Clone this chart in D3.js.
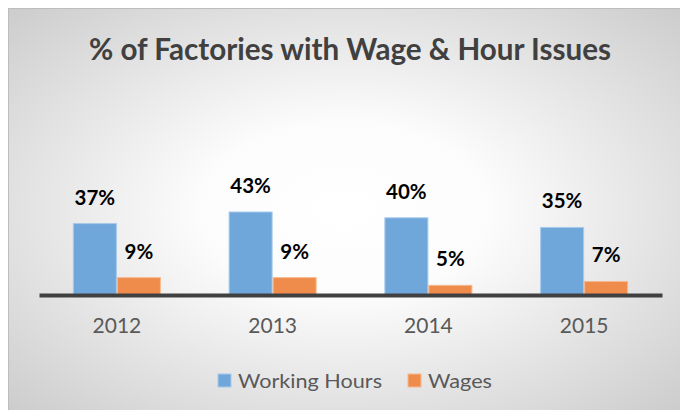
<!DOCTYPE html>
<html>
<head>
<meta charset="utf-8">
<script src="https://cdn.jsdelivr.net/npm/d3@7"></script>
<style>
  body { margin: 0; background: #ffffff; }
  text { font-family: Lato, "Open Sans", sans-serif; }
</style>
</head>
<body>
<div id="chart"></div>
<script>
// chart data
var years = ["2012", "2013", "2014", "2015"];
var seriesNames = ["Working Hours", "Wages"];
var workingHours = [37, 43, 40, 35];
var wages = [9, 9, 5, 7];
var seriesColors = ["#70a7db", "#ef8c4c"];
var seriesEdges = ["#a6c9ea", "#f6b88f"];

var svgWidth = 680;
var svgHeight = 410;

var svg = d3.select("#chart")
    .append("svg")
    .attr("width", svgWidth)
    .attr("height", svgHeight);

// background panel with a radial grey gradient
var defs = svg.append("defs");
var grad = defs.append("radialGradient")
    .attr("id", "bg")
    .attr("cx", "0.5").attr("cy", "0.5").attr("r", "0.72");
grad.append("stop").attr("offset", "0").attr("stop-color", "#ffffff");
grad.append("stop").attr("offset", "0.3").attr("stop-color", "#fcfcfc");
grad.append("stop").attr("offset", "1").attr("stop-color", "#cbcbcb");

svg.append("rect")
    .attr("x", 8.5).attr("y", 8.5)
    .attr("width", svgWidth - 8).attr("height", svgHeight - 8)
    .attr("fill", "url(#bg)")
    .attr("stroke", "#bdbdbd")
    .attr("stroke-width", 1);

// title
svg.append("text")
    .attr("x", 350)
    .attr("y", 60)
    .attr("text-anchor", "middle")
    .attr("font-size", 31)
    .attr("font-weight", "bold")
    .attr("fill", "#404040")
    .attr("textLength", 522)
    .attr("lengthAdjust", "spacingAndGlyphs")
    .text("% of Factories with Wage & Hour Issues");

// scales
var plot = { left: 39, right: 662, base: 295 };

var x0 = d3.scaleBand()
    .domain(years)
    .range([plot.left, plot.right]);

var gapWidth = 1.54; // gap between groups relative to one bar
var barW = x0.bandwidth() / (seriesNames.length + gapWidth);
var x1 = d3.scaleBand()
    .domain(seriesNames)
    .range([barW * gapWidth / 2, x0.bandwidth() - barW * gapWidth / 2]);

var y = d3.scaleLinear()
    .domain([0, 50])
    .range([plot.base, plot.base - 96.5]);

var rows = years.map(function(yr, i) {
    return { year: yr, values: [workingHours[i], wages[i]] };
});

var groups = svg.selectAll(".grp")
    .data(rows)
    .enter()
    .append("g")
    .attr("class", "grp")
    .attr("transform", d => `translate(${x0(d.year)}, 0)`);

var cells = groups.selectAll(".cell")
    .data(d => d.values.map((v, k) => ({ name: seriesNames[k], k: k, value: v })))
    .enter();

cells.append("rect")
    .attr("x", d => x1(d.name) + 0.5)
    .attr("width", x1.bandwidth() - 1)
    .attr("y", d => y(d.value))
    .attr("height", d => y(0) - y(d.value))
    .attr("fill", d => seriesColors[d.k])
    .attr("stroke", d => seriesEdges[d.k])
    .attr("stroke-width", 1);

cells.append("text")
    .attr("x", d => x1(d.name) + x1.bandwidth() / 2)
    .attr("y", d => y(d.value) - 19)
    .attr("text-anchor", "middle")
    .attr("font-size", 20.5)
    .attr("font-weight", "bold")
    .attr("fill", "#000000")
    .text(d => d.value + "%");

// category axis
var bottomAxis = d3.axisBottom(x0).tickSize(0).tickPadding(0);
var axisG = svg.append("g")
    .attr("transform", `translate(0, ${plot.base})`)
    .call(bottomAxis);
axisG.select(".domain")
    .attr("stroke", "#404040")
    .attr("stroke-width", 4);
axisG.selectAll(".tick text")
    .attr("dy", null)
    .attr("y", 38)
    .attr("font-family", "Lato, sans-serif")
    .attr("font-size", 21)
    .attr("fill", "#595959");

// legend
var legendX = [218, 408];
var legendTextW = [144, 64];
var legend = svg.selectAll(".legend")
    .data(seriesNames)
    .enter()
    .append("g")
    .attr("class", "legend")
    .attr("transform", (d, i) => `translate(${legendX[i]}, 374)`);

legend.append("rect")
    .attr("width", 13)
    .attr("height", 13)
    .attr("fill", (d, i) => seriesColors[i])
    .attr("stroke", (d, i) => seriesEdges[i]);

legend.append("text")
    .attr("x", 20)
    .attr("y", 13.5)
    .attr("font-size", 20)
    .attr("fill", "#595959")
    .attr("textLength", (d, i) => legendTextW[i])
    .attr("lengthAdjust", "spacingAndGlyphs")
    .text(d => d);
</script>
</body>
</html>
